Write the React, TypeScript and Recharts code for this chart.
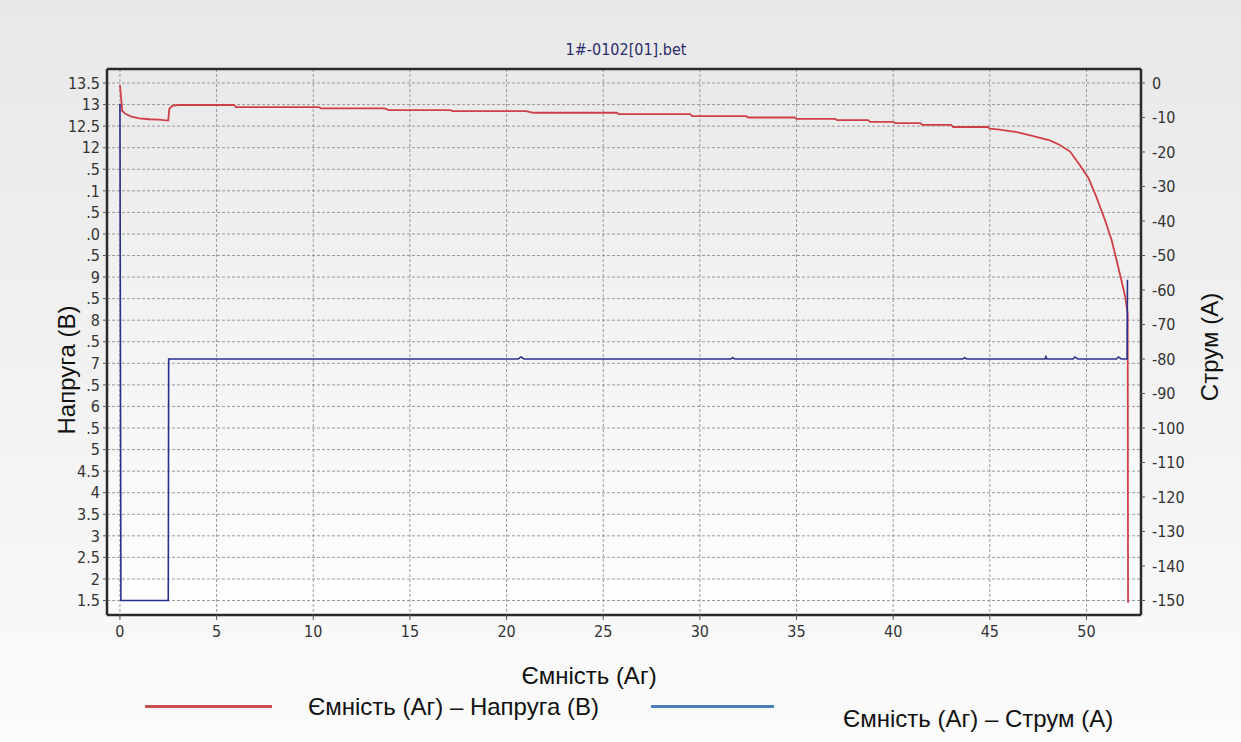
import React from "react";
import { LineChart, Line, XAxis, YAxis, CartesianGrid, Legend } from "recharts";

const chartTitle = "1#-0102[01].bet";
const capAxisTitle = "Ємність (Аг)";
const voltAxisTitle = "Напруга (В)";
const currAxisTitle = "Струм (А)";
const voltSeriesName = "Ємність (Аг) – Напруга (В)";
const currSeriesName = "Ємність (Аг) – Струм (А)";

const capTicks = [0, 5, 10, 15, 20, 25, 30, 35, 40, 45, 50];
const voltTicks = [
  1.5, 2, 2.5, 3, 3.5, 4, 4.5, 5, 5.5, 6, 6.5, 7, 7.5, 8, 8.5, 9, 9.5, 10, 10.5, 11, 11.5, 12,
  12.5, 13, 13.5,
];
// the left labels are partly hidden in the original, only the visible part is kept
const voltTickLabels = [
  "1.5", "2", "2.5", "3", "3.5", "4", "4.5", "5", ".5", "6", ".5", "7", ".5", "8", ".5", "9",
  ".5", ".0", ".5", ".1", ".5", "12", "12.5", "13", "13.5",
];
const currTicks = [0, -10, -20, -30, -40, -50, -60, -70, -80, -90, -100, -110, -120, -130, -140, -150];

// capacity (Ah) / voltage (V)
const voltCap = [
  0, 0.05, 0.12, 0.3, 0.6, 1.0, 1.5, 2.0, 2.5, 2.55, 2.7, 3.0, 5.9, 6.0, 10.3, 10.4, 13.7, 13.9,
  17.1, 17.2, 21.0, 21.4, 25.7, 25.8, 29.5, 29.6, 32.4, 32.5, 34.9, 35.0, 37.0, 37.1, 38.7, 38.8,
  40.0, 40.1, 41.4, 41.5, 43.0, 43.1, 44.9, 45.0, 45.5, 46.4, 47.25, 48.1, 48.6, 49.15, 49.65,
  50.1, 50.5, 50.95, 51.3, 51.55, 51.8, 52.0, 52.13, 52.15,
];
const voltage = [
  13.45, 13.2, 12.85, 12.78, 12.72, 12.68, 12.66, 12.65, 12.63, 12.9, 12.97, 12.99, 12.99, 12.94,
  12.94, 12.91, 12.91, 12.87, 12.87, 12.85, 12.85, 12.81, 12.81, 12.78, 12.78, 12.73, 12.73, 12.7,
  12.7, 12.67, 12.67, 12.64, 12.64, 12.6, 12.6, 12.57, 12.57, 12.53, 12.53, 12.48, 12.48, 12.44,
  12.42, 12.36, 12.27, 12.17, 12.07, 11.91, 11.6, 11.3, 10.87, 10.33, 9.86, 9.4, 8.94, 8.55, 8.16,
  1.45,
];

// capacity (Ah) / current (A)
const currCap = [
  0, 0.05, 0.08, 2.5, 2.52, 20.6, 20.75, 20.9, 31.6, 31.7, 31.8, 43.6, 43.7, 43.8, 47.85, 47.9,
  47.95, 49.3, 49.4, 49.55, 51.55, 51.65, 51.8, 52.1, 52.12,
];
const current = [
  -6, -150, -150, -150, -80, -80, -79.4, -80, -80, -79.6, -80, -80, -79.6, -80, -80, -79.3, -80,
  -80, -79.4, -80, -80, -79.4, -80, -80, -57,
];

const voltData = voltCap.map((cap, i) => ({ cap, v: voltage[i] }));
const currData = currCap.map((cap, i) => ({ cap, a: current[i] }));

const W = 1241;
const H = 742;
const tickFont = "'DejaVu Sans Condensed', 'DejaVu Sans', sans-serif";
const titleFont = "'Liberation Sans', Arial, sans-serif";
const frame = { stroke: "#2a2a2a", strokeWidth: 2.5 };
const tickStyle = { fill: "#333", fontSize: 16, fontFamily: tickFont };

const renderTitle = (props: any) => {
  const { viewBox } = props;
  return (
    <text x={viewBox.x + viewBox.width / 2 + 2} y={55} textAnchor="middle" fill="#2c2c6c" fontSize={16} fontFamily={tickFont}>
      {chartTitle}
    </text>
  );
};

const renderCapTitle = (props: any) => {
  const { viewBox } = props;
  return (
    <text x={viewBox.x + viewBox.width / 2 - 35} y={viewBox.y + 69} textAnchor="middle" fill="#111" fontSize={24} fontFamily={titleFont}>
      {capAxisTitle}
    </text>
  );
};

const renderVoltTitle = (props: any) => {
  const { viewBox } = props;
  const x = viewBox.x + 30;
  const y = viewBox.y + viewBox.height / 2 + 28;
  return (
    <text x={x} y={y} transform={`rotate(-90, ${x}, ${y})`} textAnchor="middle" fill="#111" fontSize={24} fontFamily={titleFont}>
      {voltAxisTitle}
    </text>
  );
};

const renderCurrTitle = (props: any) => {
  const { viewBox } = props;
  const x = viewBox.x + 77;
  const y = viewBox.y + viewBox.height / 2 + 5;
  return (
    <text x={x} y={y} transform={`rotate(-90, ${x}, ${y})`} textAnchor="middle" fill="#111" fontSize={24} fontFamily={titleFont}>
      {currAxisTitle}
    </text>
  );
};

const renderLegend = () => (
  <svg width={W} height={50} style={{ display: "block" }}>
    <line x1={145} x2={272} y1={16.5} y2={16.5} stroke="#c9504e" strokeWidth={3} />
    <text x={308} y={25} fill="#111" fontSize={24} fontFamily={titleFont}>
      {voltSeriesName}
    </text>
    <line x1={651} x2={774} y1={16.5} y2={16.5} stroke="#4a7ebb" strokeWidth={3} />
    <text x={843} y={37} fill="#111" fontSize={24} fontFamily={titleFont}>
      {currSeriesName}
    </text>
  </svg>
);

export default function App() {
  const capDomain = [-0.67, 52.82];
  return (
    <div
      style={{
        position: "absolute",
        left: 0,
        top: 0,
        width: W,
        height: H,
        background: "linear-gradient(#e8e8e8, #fbfbfb)",
      }}
    >
      <svg width={0} height={0} style={{ position: "absolute" }}>
        <defs>
          <linearGradient id="plotBg" x1="0" y1="0" x2="0" y2="1">
            <stop offset="0%" stopColor="#e9e9e9" />
            <stop offset="100%" stopColor="#fefefe" />
          </linearGradient>
        </defs>
      </svg>
      <LineChart width={W} height={H} margin={{ top: 68, right: 40, bottom: 97, left: 45 }}>
        <CartesianGrid
          yAxisId="left"
          stroke="#9a9a9a"
          strokeDasharray="3 2"
          fill="url(#plotBg)"
          fillOpacity={1}
        />
        <XAxis
          xAxisId="top"
          orientation="top"
          type="number"
          domain={capDomain}
          allowDataOverflow
          height={1}
          tick={false}
          tickLine={false}
          axisLine={frame}
          label={renderTitle}
        />
        <XAxis
          dataKey="cap"
          type="number"
          domain={capDomain}
          allowDataOverflow
          ticks={capTicks}
          interval={0}
          height={30}
          tickSize={5}
          tickMargin={6}
          axisLine={frame}
          tickLine={{ stroke: "#555" }}
          tick={tickStyle}
          label={renderCapTitle}
        />
        <YAxis
          yAxisId="left"
          type="number"
          domain={[1.164, 13.825]}
          allowDataOverflow
          ticks={voltTicks}
          interval={0}
          width={62}
          tickSize={4}
          tickMargin={3}
          axisLine={frame}
          tickLine={{ stroke: "#555" }}
          tick={tickStyle}
          tickFormatter={(v: number) => voltTickLabels[voltTicks.indexOf(v)] ?? String(v)}
          label={renderVoltTitle}
        />
        <YAxis
          yAxisId="right"
          orientation="right"
          type="number"
          domain={[-154.2, 4.06]}
          allowDataOverflow
          ticks={currTicks}
          interval={0}
          width={60}
          tickSize={4}
          tickMargin={7}
          axisLine={frame}
          tickLine={{ stroke: "#555" }}
          tick={tickStyle}
          label={renderCurrTitle}
        />
        <Legend
          layout="vertical"
          align="center"
          verticalAlign="middle"
          wrapperStyle={{ left: 0, top: 690, width: W, height: 50 }}
          content={renderLegend}
        />
        <Line
          yAxisId="left"
          data={voltData}
          dataKey="v"
          name={voltSeriesName}
          type="linear"
          stroke="#cf3f46"
          strokeWidth={1.8}
          dot={false}
          isAnimationActive={false}
        />
        <Line
          yAxisId="right"
          data={currData}
          dataKey="a"
          name={currSeriesName}
          type="linear"
          stroke="#2b2f8c"
          strokeWidth={1.6}
          dot={false}
          isAnimationActive={false}
        />
      </LineChart>
    </div>
  );
}
